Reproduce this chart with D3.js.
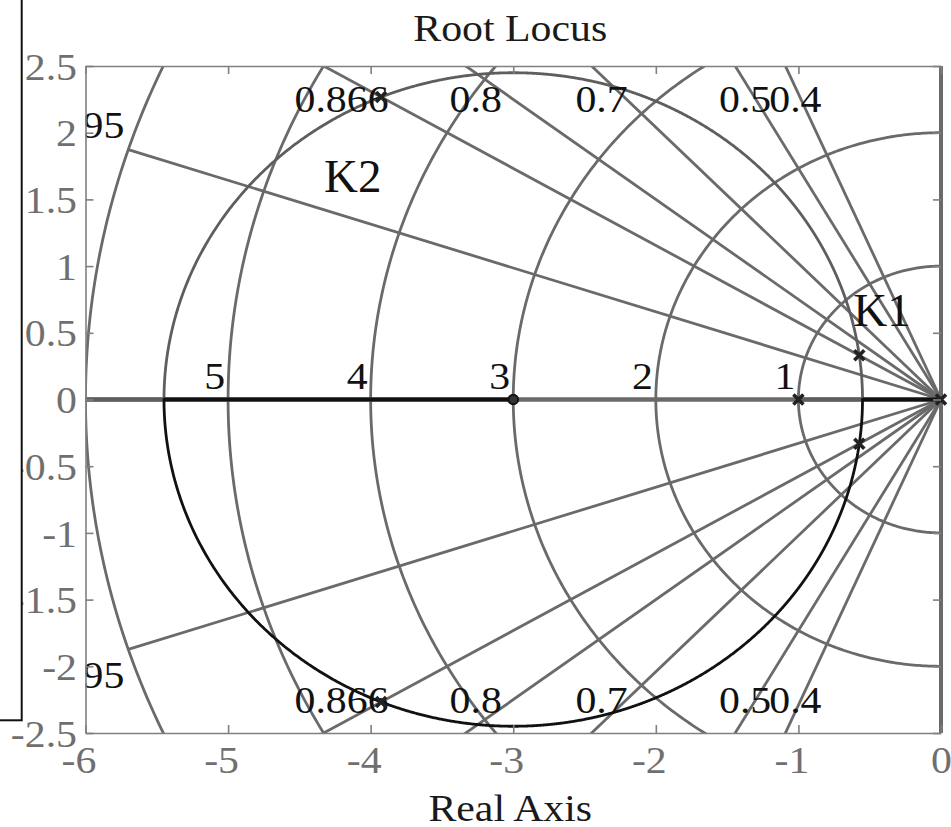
<!DOCTYPE html>
<html>
<head>
<meta charset="utf-8">
<script src="https://cdn.jsdelivr.net/npm/d3@7"></script>
<style>
  html, body { margin: 0; padding: 0; background: #fff; }
  svg { display: block; }
</style>
</head>
<body>
<svg id="chart" width="951" height="827"></svg>
<script>
// Open-loop system G(s) = K (s + 3) / (s (s + 1))
const openLoopPoles = [0, -1];
const openLoopZeros = [-3];

// Gains whose closed-loop poles are marked on the locus
const markedGainNames = ["K1", "K2"];
const markedGainValues = [0.146, 6.854];

// s-plane grid: constant damping rays and natural-frequency arcs
const dampingRatios = [0.4, 0.5, 0.7, 0.8, 0.866, 0.95];
const dampingLabels = ["0.4", "0.5", "0.7", "0.8", "0.866", "0.95"];
const naturalFreqs = [1, 2, 3, 4, 5, 6];
const naturalFreqLabels = ["1", "2", "3", "4", "5", "6"];

// Axes
const xTicks = [-6, -5, -4, -3, -2, -1, 0];
const xTickLabels = ["-6", "-5", "-4", "-3", "-2", "-1", "0"];
const yTicks = [-2.5, -2, -1.5, -1, -0.5, 0, 0.5, 1, 1.5, 2, 2.5];
const yTickLabels = ["-2.5", "-2", "-1.5", "-1", "-0.5", "0", "0.5", "1", "1.5", "2", "2.5"];

const titleText = "Root Locus";
const xLabelText = "Real Axis";

// ---------------------------------------------------------------
const FONT = "'Liberation Serif', 'Times New Roman', serif";
const FS = 38;          // text size
const SX = 1.1;         // horizontal stretch of the serif text
const GRID = "#6a6a6a";
const FRAME = "#808080";
const TICKTXT = "#6f6f6f";
const LW = 2.8;

const box = { l: 85.5, r: 941, t: 66, b: 733 };

const svg = d3.select("#chart");

const x = d3.scaleLinear().domain(d3.extent(xTicks)).range([box.l, box.r]);
const y = d3.scaleLinear().domain(d3.extent(yTicks)).range([box.b, box.t]);

const [xMin, xMax] = x.domain();
const [yMin, yMax] = y.domain();

function stretched(sel, px, py, anchor, sx = SX) {
  return sel.attr("x", 0).attr("y", 0).attr("dy", null)
    .attr("text-anchor", anchor)
    .attr("transform", `translate(${px},${py}) scale(${sx},1)`);
}

// clip region for everything drawn inside the axes
svg.append("defs").append("clipPath").attr("id", "plotClip")
  .append("rect")
  .attr("x", box.l).attr("y", box.t)
  .attr("width", box.r - box.l + 3).attr("height", box.b - box.t);

const plot = svg.append("g").attr("clip-path", "url(#plotClip)");

const line = d3.line().x(d => x(d[0])).y(d => y(d[1]));

// natural-frequency arcs (left half plane)
const grid = plot.append("g").attr("fill", "none").attr("stroke", GRID).attr("stroke-width", LW);
const angles = d3.range(90, 270.5, 0.5).map(a => a * Math.PI / 180);
naturalFreqs.forEach(wn => {
  grid.append("path").attr("d", line(angles.map(a => [wn * Math.cos(a), wn * Math.sin(a)])));
});

// constant-damping rays, out to the largest natural-frequency arc
const wnMax = d3.max(naturalFreqs);
dampingRatios.forEach(z => {
  const s = Math.sqrt(1 - z * z);
  [1, -1].forEach(sign => {
    grid.append("path").attr("d", line([[0, 0], [-wnMax * z, sign * wnMax * s]]));
  });
});

// real axis (zeta = 1) and imaginary axis (zeta = 0)
plot.append("line")
  .attr("x1", x(xMin)).attr("x2", x(0)).attr("y1", y(0)).attr("y2", y(0))
  .attr("stroke", GRID).attr("stroke-width", 4.6);
plot.append("line")
  .attr("x1", x(0)).attr("x2", x(0)).attr("y1", y(yMax)).attr("y2", y(yMin))
  .attr("stroke", GRID).attr("stroke-width", 4);

// ---------------------------------------------------------------
// characteristic polynomial s^2 + b s + c with b = B0 + K, c = C0 + C1 K
const B0 = -(openLoopPoles[0] + openLoopPoles[1]);
const C0 = openLoopPoles[0] * openLoopPoles[1];
const C1 = -openLoopZeros[0];

function closedLoopRoots(K) {
  const b = B0 + K;
  const c = C0 + C1 * K;
  let D = b * b - 4 * c;
  if (Math.abs(D) < 1e-10) D = 0;
  if (D >= 0) {
    const sq = Math.sqrt(D);
    return [{ re: (-b + sq) / 2, im: 0 }, { re: (-b - sq) / 2, im: 0 }];
  }
  const sq = Math.sqrt(-D);
  // first branch continues into the lower half plane, second into the upper
  return [{ re: -b / 2, im: -sq / 2 }, { re: -b / 2, im: sq / 2 }];
}

// gains where the discriminant vanishes (breakaway / break-in)
function breakGains() {
  const qb = 2 * B0 - 4 * C1, qc = B0 * B0 - 4 * C0;
  const d = Math.sqrt(qb * qb - 4 * qc);
  return [(-qb - d) / 2, (-qb + d) / 2].filter(k => k > 0);
}

let sweep = [0].concat(d3.range(-5, 3.6, 0.001).map(t => Math.pow(10, t)));
breakGains().forEach(kb => {
  sweep.push(kb);
  d3.range(-10, -0.5, 0.02).forEach(t => {
    const d = Math.pow(10, t);
    sweep.push(kb - d, kb + d);
  });
});
sweep = Array.from(new Set(sweep.filter(k => k >= 0))).sort((a, b) => a - b);

const branches = [[], []];
sweep.forEach(K => {
  const r = closedLoopRoots(K);
  branches[0].push(r[0]);
  branches[1].push(r[1]);
});

const locusLine = d3.line().x(d => x(d.re)).y(d => y(d.im));

function realRuns(pts) {
  const runs = [];
  let cur = [];
  pts.forEach(p => {
    if (p.im === 0) cur.push(p);
    else { if (cur.length > 1) runs.push(cur); cur = []; }
  });
  if (cur.length > 1) runs.push(cur);
  return runs;
}

const branchColors = ["#111", "#5e5e5e"];
[1, 0].forEach(bi => {
  const g = plot.append("g").attr("fill", "none").attr("stroke", branchColors[bi])
    .attr("stroke-linejoin", "round");
  g.append("path").attr("d", locusLine(branches[bi])).attr("stroke-width", LW);
  realRuns(branches[bi]).forEach(run => {
    g.append("path").attr("d", locusLine(run)).attr("stroke-width", 4);
  });
});

// markers
function cross(g, cx, cy, h) {
  g.append("path")
    .attr("d", `M${cx - h},${cy - h}L${cx + h},${cy + h}M${cx - h},${cy + h}L${cx + h},${cy - h}`)
    .attr("stroke", "#222").attr("stroke-width", 3.6).attr("fill", "none");
}
const marks = svg.append("g");
openLoopPoles.forEach(p => cross(marks, x(p), y(0), 5));
openLoopZeros.forEach(z => {
  marks.append("circle").attr("cx", x(z)).attr("cy", y(0)).attr("r", 4.8)
    .attr("fill", "#333").attr("stroke", "#111").attr("stroke-width", 2);
});
const gainPoles = markedGainValues.map(K => closedLoopRoots(K));
gainPoles.forEach(rs => rs.forEach(r => cross(marks, x(r.re), y(r.im), 5)));

// ---------------------------------------------------------------
// grid labels
const labels = plot.append("g").attr("font-family", FONT).attr("font-size", FS).attr("fill", "#111");
const midDigit = 0.345 * FS;

naturalFreqs.forEach((wn, i) => {
  stretched(labels.append("text").text(naturalFreqLabels[i]), x(-wn) - 3, y(0) - 11, "end");
});

dampingRatios.forEach((z, i) => {
  const s = Math.sqrt(1 - z * z);
  [1, -1].forEach(sign => {
    const t = labels.append("text").text(dampingLabels[i]);
    const endIm = wnMax * s;
    if (endIm <= yMax) {
      // ray stops at the outer arc inside the axes
      const ex = x(-wnMax * z), ey = y(sign * endIm);
      stretched(t, ex - 4, ey - sign * 25 + midDigit, "end");
    } else {
      const xTop = -yMax * z / s;
      const w = t.node().getComputedTextLength() * SX;
      stretched(t, x(xTop) + 0.19 * w, y(sign * 2.25) + midDigit, "middle");
    }
  });
});

// ---------------------------------------------------------------
// axes: ticks on all four sides, pointing inward
function styleAxis(g) {
  g.attr("font-family", FONT).attr("font-size", FS);
  g.select(".domain").attr("stroke", FRAME).attr("stroke-width", 1.6);
  g.selectAll(".tick line").attr("stroke", FRAME).attr("stroke-width", 1.6);
  g.selectAll(".tick text").attr("fill", TICKTXT);
}

const xFmt = d => xTickLabels[xTicks.indexOf(d)];
const yFmt = d => yTickLabels[yTicks.indexOf(d)];

const gBottom = svg.append("g").attr("transform", `translate(0,${box.b})`)
  .call(d3.axisBottom(x).tickValues(xTicks).tickFormat(xFmt).tickSizeInner(-8).tickSizeOuter(0));
styleAxis(gBottom);
gBottom.selectAll(".tick text").each(function () {
  stretched(d3.select(this), 0.25 * FS * SX, 40, "end");
});

const gTop = svg.append("g").attr("transform", `translate(0,${box.t})`)
  .call(d3.axisTop(x).tickValues(xTicks).tickFormat("").tickSizeInner(-8).tickSizeOuter(0));
styleAxis(gTop);

const gLeft = svg.append("g").attr("transform", `translate(${box.l},0)`)
  .call(d3.axisLeft(y).tickValues(yTicks).tickFormat(yFmt).tickSizeInner(-8).tickSizeOuter(0));
styleAxis(gLeft);
gLeft.selectAll(".tick text").each(function () {
  stretched(d3.select(this), -8.5, midDigit, "end");
});

const gRight = svg.append("g").attr("transform", `translate(${box.r},0)`)
  .call(d3.axisRight(y).tickValues(yTicks).tickFormat("").tickSizeInner(-8).tickSizeOuter(0));
styleAxis(gRight);
gRight.select(".domain").remove();

// ---------------------------------------------------------------
// gain labels
const kOffsets = { K1: [-6, -29], K2: [-57, 95] };
markedGainNames.forEach((name, i) => {
  const upper = gainPoles[i].find(r => r.im > 0);
  const [dx, dy] = kOffsets[name];
  svg.append("text").text(name)
    .attr("font-family", FONT).attr("font-size", 47).attr("fill", "#111")
    .attr("x", x(upper.re) + dx).attr("y", y(upper.im) + dy);
});

// title and axis label
const cx = (box.l + box.r) / 2 - 3;
stretched(svg.append("text").text(titleText)
  .attr("font-family", FONT).attr("font-size", FS).attr("fill", "#1a1a1a"), cx, 41, "middle");
stretched(svg.append("text").text(xLabelText)
  .attr("font-family", FONT).attr("font-size", FS).attr("fill", "#1a1a1a"), cx, 821, "middle");

// neighbouring panel frame at the far left
svg.append("rect")
  .attr("x", -5).attr("y", -5).attr("width", 26.7).attr("height", 725.3)
  .attr("fill", "#fff").attr("stroke", "#111").attr("stroke-width", 2);
</script>
</body>
</html>
